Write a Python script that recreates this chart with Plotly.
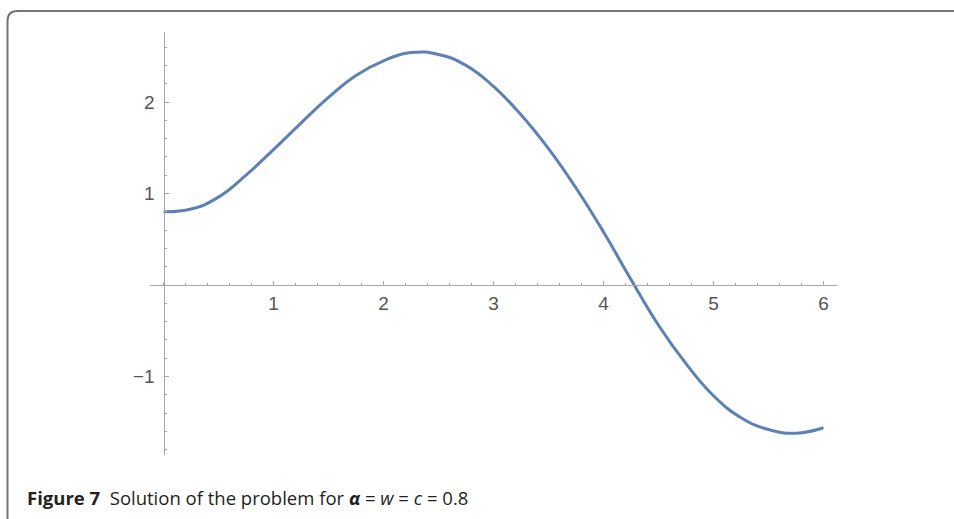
import plotly.graph_objects as go

# Values
x_vals = [0.0, 0.25, 0.5, 0.75, 1.0, 1.25, 1.5, 1.75, 2.0, 2.25, 2.5, 2.75,
          3.0, 3.25, 3.5, 3.75, 4.0, 4.25, 4.5, 4.75, 5.0, 5.25, 5.5, 5.75, 6.0]
y_vals = [0.80, 0.83, 0.96, 1.20, 1.48, 1.77, 2.05, 2.29, 2.45, 2.54, 2.52, 2.40,
          2.17, 1.86, 1.49, 1.06, 0.58, 0.06, -0.44, -0.86, -1.21, -1.45, -1.58, -1.62, -1.56]

x_ticks = [1, 2, 3, 4, 5, 6]
y_ticks = [-1, 1, 2]
caption = ("<b>Figure 7</b>&nbsp;&nbsp;Solution of the problem for "
           "<b><i>α</i></b> = <i>w</i> = <i>c</i> = 0.8")

W, H = 954, 519
fig = go.Figure()
fig.add_trace(go.Scatter(
    x=x_vals, y=y_vals, mode="lines",
    line=dict(color="#5E81B5", width=3, shape="spline", smoothing=1.3),
    hoverinfo="skip", showlegend=False,
))

axis_common = dict(
    showgrid=False, zeroline=False, showline=True, linecolor="#A6A6A6", linewidth=1,
    ticks="inside", ticklen=4, tickwidth=1, tickcolor="#A6A6A6",
    tickfont=dict(family="Liberation Sans, Arial, sans-serif", size=19, color="#555555"),
    anchor="free",
)

fig.update_layout(
    width=W, height=H,
    margin=dict(l=0, r=0, t=0, b=0),
    paper_bgcolor="white", plot_bgcolor="white",
    xaxis=dict(
        **axis_common,
        domain=[150 / W, 837 / W],
        range=[(150 - 163.5) / 110, (837 - 163.5) / 110],
        position=(H - 285) / H,
        side="bottom",
        tickmode="array", tickvals=x_ticks,
        minor=dict(ticks="inside", ticklen=2, tickcolor="#A6A6A6", dtick=0.2, tick0=0),
        ticklabelstandoff=1,
    ),
    yaxis=dict(
        **axis_common,
        domain=[(H - 455) / H, (H - 31.7) / H],
        range=[(285 - 455) / 91.5, (285 - 31.7) / 91.5],
        position=163.5 / W,
        side="left",
        tickmode="array", tickvals=y_ticks,
        minor=dict(ticks="inside", ticklen=2, tickcolor="#A6A6A6", dtick=0.2, tick0=0),
        ticklabelstandoff=5,
    ),
    shapes=[dict(
        type="path", xref="paper", yref="paper",
        path=(f"M {7.5 / W},{0} L {7.5 / W},{1 - 21 / H} "
              f"Q {7.5 / W},{1 - 11 / H} {17.5 / W},{1 - 11 / H} L {1},{1 - 11 / H}"),
        line=dict(color="#737373", width=2),
    )],
    annotations=[dict(
        text=caption, xref="paper", yref="paper",
        x=25 / W, y=1 - 497 / H, xanchor="left", yanchor="middle",
        showarrow=False,
        font=dict(family="Open Sans, sans-serif", size=18.5, color="#231F20"),
    )],
)

fig.write_html("out.html", config={"displayModeBar": False},
               post_script="document.body.style.margin='0';document.body.style.overflow='hidden';")
